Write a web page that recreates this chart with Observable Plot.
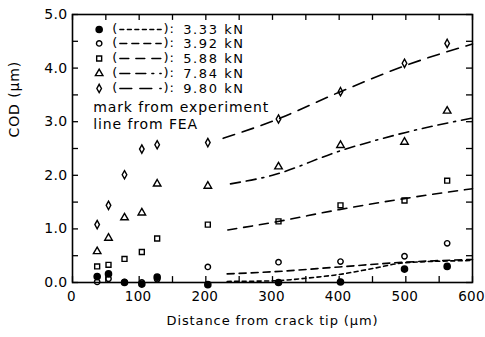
<!DOCTYPE html>
<html>
<head>
<meta charset="utf-8">
<script src="https://cdn.jsdelivr.net/npm/d3@7"></script>
<script src="https://cdn.jsdelivr.net/npm/@observablehq/plot@0.6"></script>
<style>
  html, body { margin: 0; padding: 0; background: white; }
  svg text { letter-spacing: 0.9px; }
  svg .ticklab text { letter-spacing: 0.3px; }
  svg .loadlab text { letter-spacing: 1.6px; }
</style>
</head>
<body>
<div id="chart"></div>
<script>
// Experimental measurements (marks)
const xs = [37, 54, 78, 104, 127, 203, 309, 402, 498, 562];
const cod333 = [0.11, 0.16, 0.00, -0.03, 0.10, -0.04, 0.00, 0.01, 0.25, 0.30];
const cod392 = [0.01, 0.07, 0.01, 0.00, 0.06, 0.29, 0.38, 0.39, 0.49, 0.73];
const cod588 = [0.30, 0.33, 0.44, 0.57, 0.82, 1.08, 1.14, 1.44, 1.53, 1.90];
const cod784 = [0.58, 0.83, 1.21, 1.30, 1.84, 1.80, 2.16, 2.56, 2.62, 3.20];
const cod980 = [1.08, 1.44, 2.01, 2.49, 2.57, 2.61, 3.05, 3.56, 4.09, 4.46];

// FEA results (lines)
const fea333X = [232, 300, 350, 400, 450, 500, 600];
const fea333Y = [0.02, 0.03, 0.08, 0.15, 0.26, 0.37, 0.41];
const fea392X = [232, 300, 400, 500, 600];
const fea392Y = [0.16, 0.20, 0.29, 0.38, 0.43];
const fea588X = [233, 300, 400, 500, 600];
const fea588Y = [0.98, 1.12, 1.36, 1.57, 1.75];
const fea784X = [237, 300, 400, 500, 600];
const fea784Y = [1.84, 2.00, 2.45, 2.80, 3.07];
const fea980X = [226, 300, 400, 500, 600];
const fea980Y = [2.69, 3.01, 3.55, 4.05, 4.45];

// Legend / labels
const loads = ["3.33 kN", "3.92 kN", "5.88 kN", "7.84 kN", "9.80 kN"];
const xTickLabels = [0, 100, 200, 300, 400, 500, 600];
const yTickLabels = [0, 1, 2, 3, 4, 5];
const xMinorTicks = d3.range(0, 601, 50);
const yMinorTicks = d3.range(0, 5.01, 0.5);
const xTitle = "Distance from crack tip (µm)";
const yTitle = "COD (µm)";
const noteLines = ["mark from experiment", "line from FEA"];

// narrow diamond symbol
const narrowDiamond = {
  draw(context, size) {
    const r = Math.sqrt(size / Math.PI);
    const w = r * 0.72, h = r * 1.3;
    context.moveTo(0, -h);
    context.lineTo(w, 0);
    context.lineTo(0, h);
    context.lineTo(-w, 0);
    context.closePath();
  }
};

// series definitions (styles)
const series = [
  {vals: cod333, fx: fea333X, fy: fea333Y, symbol: "circle", fill: "black", dash: "4,3.5", r: 3.1},
  {vals: cod392, fx: fea392X, fy: fea392Y, symbol: "circle", fill: "none", dash: "7,5", r: 2.7},
  {vals: cod588, fx: fea588X, fy: fea588Y, symbol: "square", fill: "none", dash: "9,7", r: 2.8},
  {vals: cod784, fx: fea784X, fy: fea784Y, symbol: "triangle", fill: "none", dash: "10,6,10,6,2,6", r: 2.8},
  {vals: cod980, fx: fea980X, fy: fea980Y, symbol: narrowDiamond, fill: "none", dash: "12,8", r: 3.2}
];

const legendY = [4.72, 4.46, 4.18, 3.90, 3.62];
const legendSymX = 40, legendOpenX = 64, legendLineX = [71, 133], legendCloseX = 145, legendTextX = 166;

const marks = [];

// ticks (inward)
marks.push(Plot.ruleX(xMinorTicks, {x: d => d, y1: 0, y2: 0.11, stroke: "black", strokeWidth: 1.3}));
marks.push(Plot.ruleX(xMinorTicks, {x: d => d, y1: 4.89, y2: 5, stroke: "black", strokeWidth: 1.3}));
marks.push(Plot.ruleY(yMinorTicks, {y: d => d, x1: 0, x2: 9, stroke: "black", strokeWidth: 1.3}));
marks.push(Plot.ruleY(yMinorTicks, {y: d => d, x1: 591, x2: 600, stroke: "black", strokeWidth: 1.3}));

// axes labels
marks.push(Plot.axisX(xTickLabels, {tickSize: 0, tickPadding: 9, fontSize: 13.5, label: null, tickFormat: d => String(d), className: "ticklab", dx: -1}));
marks.push(Plot.axisY(yTickLabels, {tickSize: 0, tickPadding: 5, fontSize: 14, label: null, tickFormat: d => d.toFixed(1), className: "ticklab"}));
marks.push(Plot.text([xTitle], {frameAnchor: "bottom", dy: 42, fontSize: 13, text: d => d}));
marks.push(Plot.text([yTitle], {frameAnchor: "left", rotate: -90, dx: -58, dy: -11, fontSize: 14, text: d => d}));

// FEA lines
series.forEach((s) => {
  const lineRows = s.fx.map((x, i) => ({x, y: s.fy[i]}));
  marks.push(Plot.line(lineRows, {x: "x", y: "y", stroke: "black", strokeWidth: 1.6, strokeDasharray: s.dash, curve: "monotone-x"}));
});
// experimental marks + legend
series.forEach((s, k) => {
  const rows = xs.map((x, i) => ({x, y: s.vals[i]}));
  marks.push(Plot.dot(rows, {x: "x", y: "y", symbol: () => s.symbol, r: s.r, fill: s.fill, stroke: "black", strokeWidth: 1.4}));
  marks.push(Plot.dot([legendY[k]], {x: legendSymX, y: d => d, symbol: () => s.symbol, r: s.r, fill: s.fill, stroke: "black", strokeWidth: 1.4}));
  marks.push(Plot.line(legendLineX.map(x => ({x, y: legendY[k]})), {x: "x", y: "y", stroke: "black", strokeWidth: 1.4, strokeDasharray: s.dash}));
  marks.push(Plot.text([legendY[k]], {x: legendOpenX, y: d => d, text: () => "(", fontSize: 13, dy: -1}));
  marks.push(Plot.text([legendY[k]], {x: legendCloseX, y: d => d, text: () => "):", fontSize: 13, dy: -1}));
  marks.push(Plot.text([loads[k]], {x: legendTextX, y: legendY[k], text: d => d, textAnchor: "start", fontSize: 13, className: "loadlab"}));
});

marks.push(Plot.text(noteLines, {x: 31, y: (d, i) => [3.26, 2.95][i], text: d => d, textAnchor: "start", fontSize: 14}));

marks.push(Plot.frame({stroke: "black", strokeWidth: 1.6}));

const chart = Plot.plot({
  width: 485,
  height: 337,
  marginLeft: 72,
  marginRight: 13,
  marginTop: 14,
  marginBottom: 55,
  x: {domain: [0, 600], axis: null},
  y: {domain: [0, 5], axis: null},
  style: {fontFamily: "DejaVu Sans", color: "black", background: "white", fontSize: "14px"},
  marks
});
document.getElementById("chart").appendChild(chart);
</script>
</body>
</html>
